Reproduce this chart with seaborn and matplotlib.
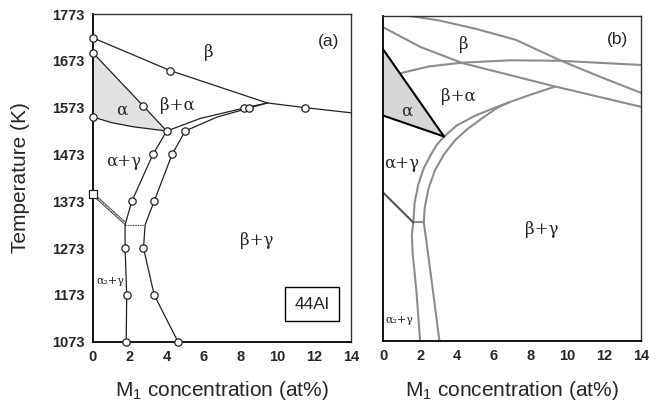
import numpy as np
import pandas as pd
import matplotlib
matplotlib.use("Agg")
import matplotlib.pyplot as plt
import seaborn as sns

# ---------------- data: panel (a), experimental ----------------
beta_x = [0, 4.2, 9.46, 11.5, 14]
beta_T = [1722, 1652, 1583, 1573, 1562]

ab_x = [0, 2.74, 4.0]
ab_T = [1690, 1576, 1523]

ag_x = [0, 1.0, 2.2, 4.0]
ag_T = [1553, 1541, 1532, 1523]

left_x = [9.46, 8.19, 5.83, 4.0, 3.25, 2.11, 1.74, 1.74, 1.83, 1.8]
left_T = [1583, 1572, 1550, 1523, 1473, 1373, 1323, 1273, 1173, 1073]

right_x = [9.46, 8.46, 6.74, 5.0, 4.29, 3.32, 2.83, 2.74, 3.32, 4.61]
right_T = [1583, 1572, 1553, 1523, 1473, 1373, 1323, 1273, 1173, 1073]

a2_x = [0, 1.74]
a2_T = [1385, 1323]
eut_x = [1.74, 2.83]
eut_T = [1323, 1323]

pts_x = [0, 4.2, 11.5, 0, 2.74, 0, 4.0, 3.25, 2.11, 1.74, 1.83, 1.8,
         5.0, 4.29, 3.32, 2.74, 3.32, 4.61, 8.19, 8.46]
pts_T = [1722, 1652, 1573, 1690, 1576, 1553, 1523, 1473, 1373, 1273, 1173, 1073,
         1523, 1473, 1373, 1273, 1173, 1073, 1572, 1572]

# ---------------- data: panel (b), calculated ----------------
c1_x = [1.0, 3.0, 5.0, 7.2, 9.6, 12.0, 14.0]
c1_T = [1775, 1763, 1745, 1721, 1677, 1638, 1607]

c2_x = [0, 2.0, 4.3, 7.2, 9.3, 14.0]
c2_T = [1748, 1706, 1671, 1642, 1621, 1577]

c3_x = [0.9, 2.5, 4.3, 6.9, 9.6, 14.0]
c3_T = [1649, 1664, 1672, 1677, 1676, 1667]

hyp_x = [0, 3.3]
hyp_T = [1700, 1513]
low_x = [0, 3.3]
low_T = [1558, 1513]

inner_x = [2.0, 1.8, 1.6, 1.55, 1.63, 1.7, 1.9, 2.2, 2.6, 2.9, 3.3,
           4.0, 5.0, 6.0, 7.0, 8.0, 9.3]
inner_T = [1073, 1180, 1260, 1300, 1328, 1370, 1410, 1445, 1475, 1495, 1513,
           1537, 1558, 1574, 1589, 1603, 1620]

outer_x = [3.05, 2.7, 2.4, 2.3, 2.2, 2.25, 2.45, 2.8, 3.3, 3.9, 4.6, 5.5, 6.2, 6.8]
outer_T = [1073, 1180, 1270, 1300, 1328, 1360, 1400, 1440, 1475, 1505, 1530,
           1556, 1575, 1586]

conn_x = [1.63, 2.2]
conn_T = [1328, 1328]

a2b_x = [0, 1.63]
a2b_T = [1392, 1328]

yticks = [1073, 1173, 1273, 1373, 1473, 1573, 1673, 1773]
xticks = [0, 2, 4, 6, 8, 10, 12, 14]

sns.set_style("white")
plt.rcParams["font.family"] = ["Liberation Sans", "DejaVu Sans"]
plt.rcParams["mathtext.fontset"] = "custom"
plt.rcParams["mathtext.rm"] = "Liberation Sans"
plt.rcParams["mathtext.it"] = "Liberation Sans:italic"

fig = plt.figure(figsize=(6.49, 4.05), dpi=100)
ax1 = fig.add_axes([93 / 649, 63.3 / 405, 258 / 649, 327.7 / 405])
ax2 = fig.add_axes([383.3 / 649, 64 / 405, 257.7 / 649, 325.3 / 405])


def curve(ax, x, y, **kw):
    df = pd.DataFrame({"x": x, "y": y})
    sns.lineplot(data=df, x="x", y="y", sort=False, estimator=None, ax=ax, **kw)


serif = ["DejaVu Serif", "Liberation Serif"]
greek = dict(family=serif, fontsize=12, ha="center", va="center")
small = dict(family=serif, fontsize=8, ha="center", va="center")

# ---------------- panel (a) ----------------
ax1.fill(ab_x[:1] + ab_x + ag_x[::-1], [ag_T[0]] + ab_T + ag_T[::-1],
         color="#e2e2e2", lw=0, zorder=1)
lc = "#222222"
for xs, ys in [(beta_x, beta_T), (ab_x, ab_T), (ag_x, ag_T),
               (left_x, left_T), (right_x, right_T)]:
    curve(ax1, xs, ys, color=lc, lw=0.9)
curve(ax1, a2_x, a2_T, color="#333333", lw=0.6)
curve(ax1, a2_x, np.asarray(a2_T) + 6, color="#333333", lw=0.6)
curve(ax1, a2_x, np.asarray(a2_T) + 3, color="#555555", lw=0.6,
      linestyle=(0, (1.5, 1.2)))
curve(ax1, eut_x, eut_T, color="#444444", lw=0.7, linestyle=(0, (1.5, 1)))
sns.scatterplot(x=pts_x, y=pts_T, ax=ax1, marker="o", s=28, facecolor="white",
                edgecolor="#222222", linewidth=0.9, zorder=5, clip_on=False)
sns.scatterplot(x=[0], y=[1388], ax=ax1, marker="s", s=30, facecolor="white",
                edgecolor="#222222", linewidth=0.9, zorder=5, clip_on=False)

ax1.text(6.28, 1690, "β", **greek)
ax1.text(4.56, 1578, "β+α", **greek)
ax1.text(1.56, 1567, "α", **greek)
ax1.text(1.65, 1457, "α+γ", **greek)
ax1.text(8.9, 1289, "β+γ", **greek)
ax1.text(0.93, 1203, "α₂+γ", **small)
ax1.text(12.8, 1714, "(a)", fontsize=12.5, ha="center", va="center")
ax1.text(11.9, 1153, "44Al", fontsize=12.5, ha="center", va="center",
         bbox=dict(boxstyle="square,pad=0.55", fc="white", ec="black", lw=1.0))

# ---------------- panel (b) ----------------
ax2.fill(hyp_x[:1] + hyp_x + low_x[::-1], [low_T[0]] + hyp_T + low_T[::-1],
         color="#d6d6d6", lw=0, zorder=1)
gc = "#8c8c8c"
for xs, ys in [(c1_x, c1_T), (c2_x, c2_T), (c3_x, c3_T),
               (inner_x, inner_T), (outer_x, outer_T), (conn_x, conn_T)]:
    curve(ax2, xs, ys, color=gc, lw=1.5)
curve(ax2, a2b_x, a2b_T, color="#555555", lw=1.5)
curve(ax2, hyp_x, hyp_T, color="black", lw=1.5)
curve(ax2, low_x, low_T, color="black", lw=1.5)

ax2.text(4.38, 1710, "β", **greek)
ax2.text(4.07, 1599, "β+α", **greek)
ax2.text(1.27, 1567, "α", **greek)
ax2.text(1.0, 1456, "α+γ", **greek)
ax2.text(8.6, 1313, "β+γ", **greek)
ax2.text(0.9, 1119, "α₂+γ", **small)
ax2.text(12.75, 1721, "(b)", fontsize=12.5, ha="center", va="center")

# ---------------- axes styling ----------------
for ax in (ax1, ax2):
    ax.set_xlim(0, 14)
    ax.set_ylim(1073, 1773)
    ax.set_xticks(xticks)
    ax.set_yticks(yticks)
    ax.set_xticklabels([str(v) for v in xticks], fontsize=10.5, fontweight="bold")
    ax.tick_params(direction="in", length=7, width=1.3, color="black",
                   top=False, right=False, pad=6)
    ax.set_xlabel("M$_{\\mathrm{1}}$ concentration (at%)", fontsize=15, labelpad=11)
    ax.set_ylabel("")
    for s in ax.spines.values():
        s.set_color("#333333")
        s.set_linewidth(1.0)
    ax.spines["left"].set_color("black")
    ax.spines["left"].set_linewidth(1.3)
    ax.spines["bottom"].set_color("black")
    ax.spines["bottom"].set_linewidth(1.3)

ax1.set_yticklabels([str(v) for v in yticks], fontsize=10.5, fontweight="bold")
ax2.set_yticklabels([])
ax1.set_ylabel("Temperature (K)", fontsize=15, labelpad=16)

fig.savefig("out.png", dpi=100)
